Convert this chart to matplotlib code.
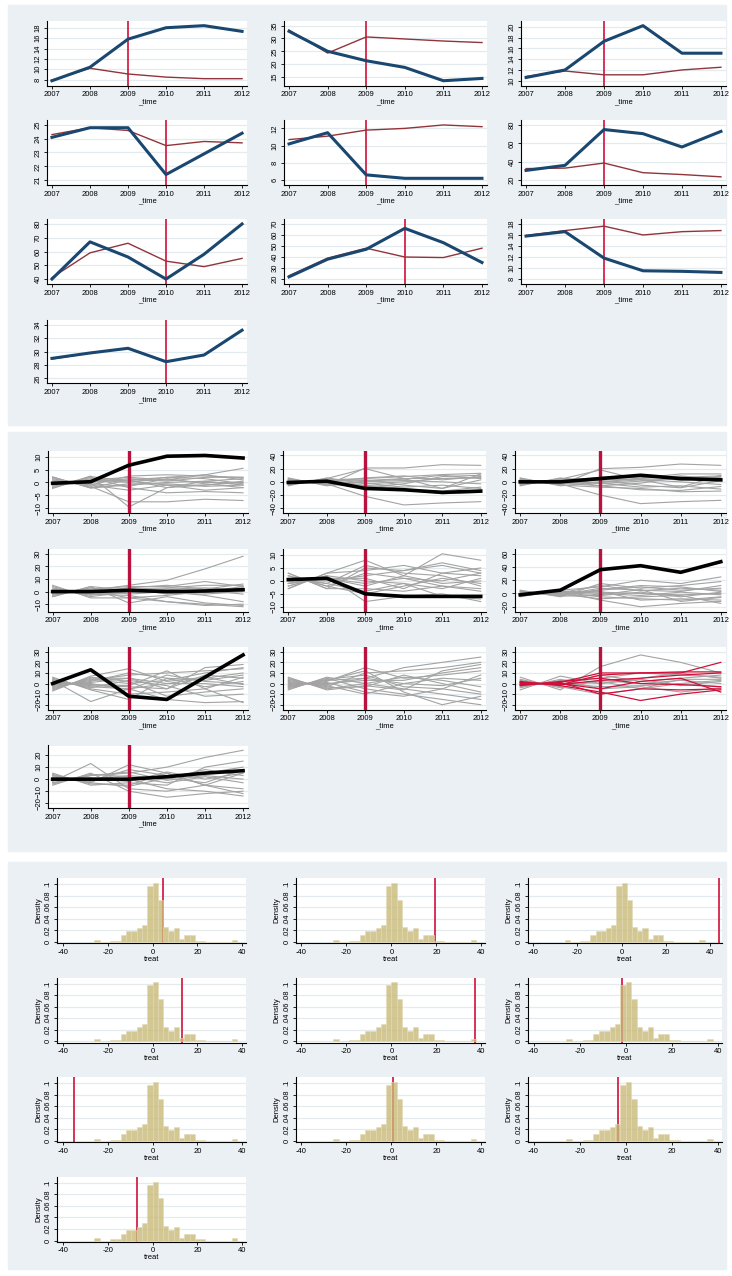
import matplotlib
matplotlib.use("Agg")
import matplotlib.pyplot as plt
from matplotlib.patches import Rectangle

plt.rcParams["font.family"] = ["Liberation Sans", "DejaVu Sans"]

years = [2007, 2008, 2009, 2010, 2011, 2012]

# ---------------- treated vs synthetic levels ----------------
treated = [
    [7.8, 10.4, 15.8, 18.0, 18.4, 17.3],
    [32.8, 25.0, 21.3, 18.7, 13.5, 14.4],
    [10.6, 12.0, 17.3, 20.2, 15.1, 15.1],
    [24.1, 24.8, 24.8, 21.4, 22.9, 24.4],
    [10.2, 11.5, 6.6, 6.2, 6.2, 6.2],
    [30.5, 36.0, 75.0, 70.5, 56.0, 73.0],
    [40.0, 67.0, 56.0, 40.0, 58.0, 80.0],
    [22.0, 38.0, 47.0, 66.0, 53.0, 35.0],
    [15.8, 16.6, 11.8, 9.5, 9.4, 9.2],
    [29.0, 29.8, 30.5, 28.5, 29.5, 33.2],
]
synthetic = [
    [7.9, 10.2, 9.1, 8.5, 8.2, 8.2],
    [33.3, 24.3, 30.6, 29.8, 29.0, 28.4],
    [10.8, 11.8, 11.1, 11.1, 12.0, 12.5],
    [24.3, 24.8, 24.6, 23.5, 23.8, 23.7],
    [10.7, 11.1, 11.8, 12.0, 12.4, 12.2],
    [32.5, 33.0, 38.5, 28.0, 26.0, 23.5],
    [41.0, 59.0, 66.0, 53.0, 49.0, 55.0],
    [23.0, 39.0, 48.0, 40.0, 39.5, 48.0],
    [15.9, 16.8, 17.6, 16.0, 16.6, 16.8],
    [28.9, 29.8, 30.5, 28.5, 29.5, 33.2],
]
level_treat_year = [2009, 2009, 2009, 2010, 2009, 2009, 2010, 2010, 2009, 2010]
level_ticks = [
    [8, 10, 12, 14, 16, 18],
    [15, 20, 25, 30, 35],
    [10, 12, 14, 16, 18, 20],
    [21, 22, 23, 24, 25],
    [6, 8, 10, 12],
    [20, 40, 60, 80],
    [40, 50, 60, 70, 80],
    [20, 30, 40, 50, 60, 70],
    [8, 10, 12, 14, 16, 18],
    [26, 28, 30, 32, 34],
]

# ---------------- placebo gaps ----------------
placebo_gaps = [
    [[2, -2, 1, 2, 3, 5.5], [-2, 2.5, -9.5, -2, -1, 0], [1.5, -1.5, -7.5, -7.5, -6.5, -7],
     [-2, 2, -2, -4, -3.5, -4], [1, -1, 2.5, 3, 2.5, 2], [-1, 1, 2, 1, 3, 1],
     [2, -2, -1, 0, 0.5, -1], [-1.5, 1.5, 0.5, -1, -1, 0.5], [0.5, -0.5, -1.5, 1.5, -0.5, -2],
     [-0.5, 0.5, 1, -2, 0.5, 1.5], [1, -1, -3, -1, -3, -2], [-1, 1, 0, 2, 1.5, -0.5],
     [0, 0, 1.5, 0.5, 2, 2], [2.2, -2.2, -0.5, -0.5, -1.5, -1], [-2.3, 2.3, 0.5, 1, 0, 0]],
    [[5, -5, 21, 21, 26, 25], [-5, 5, 20, 5, -10, 12], [3, -3, -22, -35, -32, -30],
     [-3, 3, 5, 8, 11, 13], [4, -4, -5, -10, -18, -16], [-4, 4, 2, 5, 5, 7],
     [2, -2, -8, -3, 8, 10], [-2, 2, 3, -5, -10, 3], [6, -6, 0, 2, 0, -3],
     [-6, 6, -3, 0, 5, 6], [1, -1, 6, 9, 3, 8], [-1, 1, -2, -8, -5, -10],
     [3, -3, 1, 4, 10, 5], [-2, 2, -6, -12, -14, -8]],
    [[4, -4, 20, 22, 27, 25], [-4, 4, 18, 3, -8, 10], [3, -3, -20, -33, -30, -28],
     [-3, 3, 6, 6, 12, 12], [5, -5, -8, -10, -15, -14], [-5, 5, 3, 4, 4, 7],
     [2, -2, -6, -2, 7, 9], [-2, 2, 2, -5, -9, 2], [6, -6, -1, 3, 0, -4],
     [-6, 6, -3, 1, 5, 5], [1, -1, 7, 10, 2, 8], [-1, 1, -2, -8, -6, -11],
     [3, -3, 0, 5, 9, 4], [-2, 2, -6, -12, -13, -7]],
    [[-1, 1, 5, 9, 18, 28], [5, -5, -5, -8, -10, -12], [-4, 4, -9, -4, -9, -11],
     [2, -2, -3, -8, -11, -10], [-2, 2, 4, 4, 8, 4], [3, -3, 2, 3, 5, 5],
     [-3, 3, -2, 0, -3, -8], [1, -1, 3, 5, 2, 6], [-1, 1, -5, -3, 0, 2],
     [4, -4, 0, -1, -2, 0], [-4, 4, 1, 2, 3, 1], [2, -2, -1, 2, -1, 3],
     [0, 0, 3, -2, 1, -2], [-2, 2, 0, 1, 0, 4]],
    [[-3, 3, 8, 2, 10.5, 8], [3, -3, 5, 4, 7, 4], [-2, 2, -8, -6, -5, -8],
     [2, -2, 3, 1, -2, -3], [-1, 1, 1, -3, 3, 2], [1, -1, -4, -1, -6, -7],
     [-3, 3, 4, 6, 3, 5], [3, -3, -3, -4, -2, -4], [0, 0, 2, 4, 6, 3],
     [-1, 1, -2, 2, -1, 0], [2, -2, -5, -2, 1, -1], [-2, 2, 0, -1, -3, 1],
     [1, -1, 6, 3, 2, -2], [-1, 1, -1, 1, 0, 3]],
    [[-5, 5, 10, 20, 15, 25], [5, -5, 15, 8, 12, 18], [-3, 3, -10, -20, -15, -12],
     [3, -3, 5, 10, 5, 8], [-2, 2, -5, -8, -10, -5], [2, -2, 8, 5, 3, 12],
     [-4, 4, 0, -3, 2, -2], [4, -4, -3, 2, -5, 2], [0, 0, 3, -10, -8, -10],
     [-1, 1, 12, 4, 8, 5], [1, -1, -8, -5, -3, -15], [-3, 3, 2, 0, -2, 0],
     [3, -3, 6, 12, 10, 3], [-2, 2, -2, 6, -12, -6]],
    [[-5, 5, 5, -5, 15, 18], [5, -5, -10, -8, -5, -18], [-3, 3, 8, 10, 12, 14],
     [3, -3, -5, 0, 5, 10], [-6, 6, 2, -12, -8, -5], [6, -6, -15, 5, 3, 8],
     [-2, 2, 10, 5, -3, 2], [2, -2, -3, -5, 8, 5], [-4, 4, 0, 3, 10, 15],
     [4, -4, 3, -2, -12, -10], [0, 0, -6, 8, 2, 0], [-1, 1, 5, 0, 0, -3],
     [1, -1, -2, 12, -5, 6], [-7, 7, 14, 2, 6, -1], [3, -17, -5, -15, -18, -17]],
    [[-3, 3, 5, 15, 20, 25], [3, -3, 10, 12, 15, 20], [-5, 5, -5, -10, -15, -20],
     [5, -5, 0, -5, -10, -15], [-2, 2, 15, 5, 8, 12], [2, -2, -10, 0, 5, 3],
     [-4, 4, 8, -3, -5, 8], [4, -4, -3, 8, 0, -8], [0, 0, 3, 3, 10, 15],
     [-1, 1, -8, -12, -5, -10], [1, -1, 5, 0, -2, 5], [-6, 6, 0, 6, 3, -3],
     [6, -6, -2, -6, 12, 18], [-3, 3, 12, -8, -20, -12]],
    [[6, -6, 16, 27, 20, 10], [-6, 7, 0, 5, 10, 5], [3, -3, -10, -5, 0, 3],
     [-3, 3, 5, 10, 8, 6], [4, -4, 3, 0, 3, 0], [-4, 4, -5, -3, -8, -4],
     [2, -2, 8, 2, 5, 8], [-2, 2, 0, 4, -2, 2], [0, 0, -3, -2, 0, -3],
     [1, -1, 2, -5, 4, 4]],
    [[-3, 3, 5, 10, 18, 24], [3, -3, 12, 5, -5, -12], [-5, 5, -10, -15, -12, -10],
     [5, -5, -3, -5, 10, 15], [-2, 13, -8, -10, -5, 5], [2, -2, 8, 3, 5, 10],
     [-4, 4, 2, -3, 2, -3], [4, -4, -5, 5, -5, -8], [0, 0, 3, 0, 8, 3],
     [-1, 1, -2, 6, 0, 5], [1, -1, 0, -8, -10, -14], [-3, 3, 6, -1, 3, 0],
     [3, -3, -6, 1, -3, 8]],
]
focus_gaps = [
    [[-0.3, 0.3, 6.7, 10.2, 10.5, 9.5]],
    [[-1, 1, -10, -12, -16, -14]],
    [[0, 0, 5, 10, 5, 3]],
    [[0, 0, 1, 0, 0.5, 1.5]],
    [[0.5, 1, -5, -6, -6, -6]],
    [[-2, 5, 36, 42, 32, 48]],
    [[0, 13, -12, -15, 6, 27]],
    [],
    [[1, -1, 8, 10, 10, 20], [-1, 1, 10, 10, 11, 11], [2, -2, -8, -16, -10, -6],
     [-2, 2, 5, 0, -1, -3], [0, 0, -5, 2, 5, -8], [1, -1, 3, 5, 8, 10],
     [-1, 1, -10, -5, -6, -5]],
    [[0, 0, 0, 2, 5, 7]],
]
focus_red = [False] * 8 + [True, False]
gap_ticks = [
    [-10, -5, 0, 5, 10],
    [-40, -20, 0, 20, 40],
    [-40, -20, 0, 20, 40],
    [-10, 0, 10, 20, 30],
    [-10, -5, 0, 5, 10],
    [-20, 0, 20, 40, 60],
    [-20, -10, 0, 10, 20, 30],
    [-20, -10, 0, 10, 20, 30],
    [-20, -10, 0, 10, 20, 30],
    [-20, -10, 0, 10, 20],
]

# ---------------- placebo effect distribution ----------------
bin_left = [-25.85, -23.5, -21.15, -18.8, -16.45, -14.1, -11.75, -9.4, -7.05, -4.7,
            -2.35, 0.0, 2.35, 4.7, 7.05, 9.4, 11.75, 14.1, 16.45, 18.8, 21.15,
            23.5, 25.85, 28.2, 30.55, 32.9, 35.25]
density = [0.004, 0.0, 0.0, 0.002, 0.002, 0.012, 0.018, 0.018, 0.024, 0.030,
           0.097, 0.102, 0.073, 0.025, 0.018, 0.024, 0.005, 0.012, 0.012, 0.002, 0.002,
           0.0, 0.0, 0.0, 0.0, 0.0, 0.004]
treat_effect = [4.5, 19.5, 44.0, 13.0, 37.0, -1.5, -35.0, 0.5, -3.5, -6.7]

BIN_W = 2.35
NAVY = "#1a476f"
MAROON = "#90353b"
RED = "#d0103a"
CRIMSON = "#b8123e"
GRAY = "#a3a3a3"
KHAKI = "#c8b978"
GRID = "#e4ebee"
PANEL_BG = "#eaf0f3"

W, H = 732, 1276
fig = plt.figure(figsize=(W / 100, H / 100), dpi=100)
fig.patch.set_facecolor("white")

# three combined graph regions
for top, bottom in [(5, 425), (432, 851), (862, 1269)]:
    fig.patches.append(Rectangle((8 / W, 1 - bottom / H), (726 - 8) / W, (bottom - top) / H,
                                 transform=fig.transFigure, color=PANEL_BG, zorder=-10))


def px_axes(l, t, r, b):
    return fig.add_axes([l / W, 1 - b / H, (r - l) / W, (b - t) / H])


def style_axes(ax, yticks, ylabels=None):
    ax.set_facecolor("white")
    for s in ("top", "right"):
        ax.spines[s].set_visible(False)
    for s in ("left", "bottom"):
        ax.spines[s].set_linewidth(0.8)
    ax.tick_params(length=2.5, width=0.6, labelsize=5.5, pad=1.5, colors="black")
    ax.set_yticks(yticks)
    if ylabels is not None:
        ax.set_yticklabels(ylabels)
    for lab in ax.get_yticklabels():
        lab.set_rotation(90)
        lab.set_va("center")
    ax.grid(axis="y", color=GRID, lw=0.9)
    ax.set_axisbelow(True)


def pad_limits(ticks, series):
    lo = min([ticks[0]] + [min(s) for s in series])
    hi = max([ticks[-1]] + [max(s) for s in series])
    pad = 0.09 * (hi - lo)
    return lo - pad, hi + pad


# ---------------- PANEL 1 : levels ----------------
cols1 = [(47, 247), (284, 487), (521, 726)]
rows1 = [(20.7, 85.7), (120, 185), (219, 284), (320, 383.3)]
cols2 = [(47.7, 248), (283.3, 485.7), (515, 726)]
rows2 = [(450.7, 513), (549, 611.5), (647, 709.5), (745.5, 808)]
cols3 = [(57.3, 246), (296, 485), (528, 722)]
rows3 = [(878, 943), (977.5, 1042.5), (1077, 1142), (1176.7, 1241.7)]

for i in range(10):
    r, c = divmod(i, 3)
    ax = px_axes(cols1[c][0], rows1[r][0], cols1[c][1], rows1[r][1])
    ax.axvline(level_treat_year[i], color=RED, lw=1.2, zorder=2)
    ax.plot(years, synthetic[i], color=MAROON, lw=1.0, zorder=3)
    ax.plot(years, treated[i], color=NAVY, lw=2.2, zorder=4)
    style_axes(ax, level_ticks[i])
    ax.set_xticks(years)
    ax.set_xlim(2006.87, 2012.13)
    ax.set_ylim(*pad_limits(level_ticks[i], [treated[i], synthetic[i]]))
    ax.set_xlabel("_time", fontsize=5.5, labelpad=0)

# ---------------- PANEL 2 : placebo gaps ----------------
for i in range(10):
    r, c = divmod(i, 3)
    ax = px_axes(cols2[c][0], rows2[r][0], cols2[c][1], rows2[r][1])
    for g in placebo_gaps[i]:
        ax.plot(years, g, color=GRAY, lw=0.8, zorder=2)
    ax.axvline(2009, color=CRIMSON, lw=2.4, zorder=3)
    for g in focus_gaps[i]:
        if focus_red[i]:
            ax.plot(years, g, color=RED, lw=0.9, zorder=4)
        else:
            ax.plot(years, g, color="black", lw=2.6, zorder=4)
    style_axes(ax, gap_ticks[i])
    ax.set_xticks(years)
    ax.set_xlim(2006.87, 2012.13)
    ax.set_ylim(*pad_limits(gap_ticks[i], placebo_gaps[i] + focus_gaps[i]))
    ax.set_xlabel("_time", fontsize=5.5, labelpad=0)

# ---------------- PANEL 3 : distribution of effects ----------------
dens_ticks = [0, 0.02, 0.04, 0.06, 0.08, 0.1]
dens_labels = ["0", ".02", ".04", ".06", ".08", ".1"]
for i in range(10):
    r, c = divmod(i, 3)
    ax = px_axes(cols3[c][0], rows3[r][0], cols3[c][1], rows3[r][1])
    ax.axvline(treat_effect[i], color=RED, lw=1.2, zorder=2)
    ax.bar(bin_left, density, width=BIN_W, align="edge", color=KHAKI, alpha=0.8,
           edgecolor="#e2dab4", linewidth=0.5, zorder=3)
    style_axes(ax, dens_ticks, dens_labels)
    ax.set_xticks([-40, -20, 0, 20, 40])
    ax.set_xticklabels(["-40", "-20", "0", "20", "40"])
    ax.set_xlim(min(-42.4, treat_effect[i] - 1.5), max(41.6, treat_effect[i] + 1.5))
    ax.set_ylim(-0.002, 0.1105)
    ax.set_xlabel("treat", fontsize=5.5, labelpad=0)
    ax.set_ylabel("Density", fontsize=5.5, labelpad=2)

fig.savefig("out.png", dpi=100, facecolor="white")
